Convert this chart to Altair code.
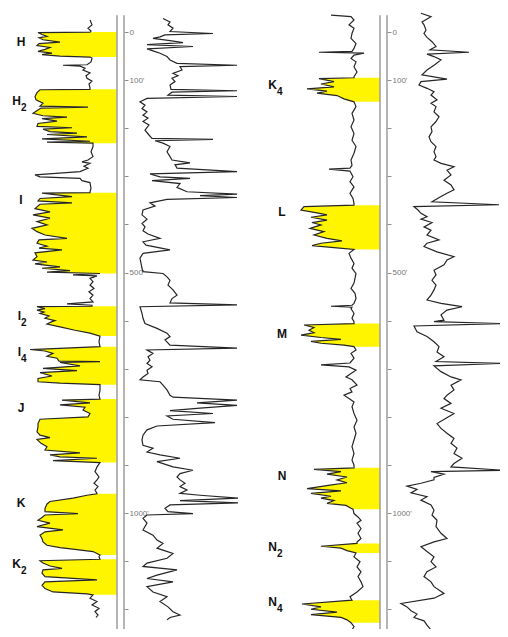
import altair as alt
import pandas as pd

# ---------------- data (depth in ft, SP in mV, resistivity in ohm-m) -------------
LEFT_SP = [(-25,-27),(-15,-25),(-8,-29),(-2,-26),
    (0,-27),(1,-79),(5,-75),(9,-70),(12,-78),(16,-74),(21,-57),(24,-78),(28,-80),(32,-67),(36,-72),(40,-79),(44,-65),(47,-75),(50,-57),(52,-27),
    (54,-25),(62,-26),(68,-30),(69,-54),(71,-37),(75,-32),(79,-34),(85,-27),(91,-31),(96,-30),(102,-25),(108,-28),(116,-27),
    (119,-27),(120,-77),(126,-80),(134,-82),(141,-81),(148,-74),(154,-77),(156,-29),(158,-76),(162,-79),(169,-84),(174,-74),(177,-50),(180,-75),(185,-60),(190,-79),(196,-80),(199,-45),(202,-74),(207,-67),(210,-40),(213,-70),(218,-30),(222,-75),(227,-27),(229,-70),(231,-24),
    (238,-24),(249,-26),(259,-24),(266,-29),(270,-35),(273,-27),(279,-33),(283,-29),(290,-37),(297,-82),(301,-77),(304,-37),(309,-35),(313,-27),(325,-26),(332,-27),
    (334,-27),(335,-75),(342,-45),(346,-77),(351,-79),(355,-45),(358,-77),(367,-82),(374,-67),(380,-84),(387,-67),(394,-80),(401,-70),(408,-85),(415,-80),(422,-72),(429,-50),(432,-78),(439,-80),(445,-70),(449,-78),(453,-55),(459,-82),(467,-80),(474,-84),(478,-70),(482,-82),(488,-57),(491,-75),(496,-47),(499,-70),(502,-17),
    (505,-44),(507,-20),(512,-27),(519,-24),(526,-27),(533,-23),(540,-28),(547,-24),(554,-27),(561,-24),(565,-50),(568,-25),
    (570,-25),(571,-80),(575,-72),(578,-80),(582,-73),(585,-77),(590,-68),(595,-72),(600,-62),(602,-65),(607,-70),(613,-57),(620,-42),(626,-27),(632,-17),
    (644,-18),
    (654,-17),(660,-87),(663,-72),(668,-64),(674,-70),(678,-60),(684,-58),(685,-17),(687,-57),(694,-37),(699,-74),(704,-40),(708,-77),(715,-65),(720,-79),(727,-79),(730,-57),(733,-17),
    (745,-17),(755,-18),
    (763,-17),(765,-55),(771,-27),(775,-57),(780,-32),(786,-34),(793,-27),(800,-29),(805,-77),(814,-79),(821,-79),(831,-80),(838,-77),(843,-67),(847,-80),(855,-76),(862,-70),(869,-72),(875,-37),(879,-67),(883,-57),(886,-20),(891,-64),(895,-17),
    (904,-20),(914,-22),(925,-18),(931,-20),(938,-23),(945,-19),(952,-22),(959,-20),
    (960,-20),(963,-30),(969,-44),(976,-67),(981,-70),(990,-72),(997,-72),(1001,-39),(1004,-72),(1009,-75),(1015,-79),(1021,-67),(1028,-80),(1035,-54),(1039,-72),(1046,-77),(1053,-75),(1060,-74),(1067,-70),(1072,-57),(1076,-40),(1080,-24),(1087,-17),
    (1091,-18),
    (1096,-17),(1099,-77),(1104,-74),(1110,-67),(1115,-55),(1118,-74),(1125,-75),(1132,-72),(1139,-20),(1143,-72),(1150,-75),(1157,-72),(1164,-64),(1168,-30),(1170,-24),
    (1177,-27),(1184,-20),(1191,-25),(1198,-18),(1205,-22),(1212,-19),(1217,-21)]

LEFT_RES = [(-28,33),(-21,40),(-15,38),(-8,43),(-1,40),(3,83),(6,35),(10,30),(13,23),(18,40),(22,53),(26,17),(30,63),(35,17),(39,23),(44,30),(51,37),(58,40),(65,47),(69,107),(72,50),(79,52),(86,43),(91,48),(96,42),(103,45),(110,40),(119,41),(122,107),(125,42),(131,38),(134,107),(138,17),(145,10),(152,15),(159,12),(166,17),(173,13),(179,18),(186,13),(193,19),(204,15),(214,19),(221,22),(223,83),(226,25),(231,33),(238,40),(249,37),(259,40),
    (266,42),(272,60),(276,45),(283,47),(290,107),(295,20),(301,30),(304,60),(309,22),(315,50),(323,47),(332,57),(337,107),(340,70),(344,107),(348,37),(355,20),(362,25),(370,13),(380,12),(389,17),(398,12),(405,15),(413,13),(420,18),(429,30),(436,13),(443,16),(453,40),(460,13),(470,10),(481,11),(491,12),(498,13),(502,33),(509,37),(516,40),(526,38),(536,43),(547,47),(554,42),(563,40),(567,107),(571,10),(585,12),(595,13),
    (606,15),(616,27),(626,37),(633,40),(640,35),(651,40),(657,107),(661,17),(668,23),(675,18),(682,20),(689,17),(696,22),(703,17),(710,18),(717,13),(723,10),(727,30),(734,33),(744,37),(755,40),(759,43),(765,107),(771,67),(776,107),(782,70),(787,40),(793,83),(798,37),(805,43),(812,85),(819,27),(827,17),(838,13),(848,12),(859,13),(865,23),(873,17),(879,30),(886,50),(893,27),(904,43),(911,63),(918,50),(925,47),(931,50),
    (938,55),(945,50),(952,57),(959,50),(963,70),(969,108),(974,50),(979,108),(983,40),(990,35),(997,38),(1001,63),(1004,17),(1011,13),(1021,17),(1035,13),(1046,23),(1056,27),(1063,33),(1073,27),(1084,43),(1094,37),(1104,17),(1111,13),(1118,47),(1129,27),(1136,17),(1143,43),(1153,17),(1164,23),(1174,37),(1184,30),(1195,38),(1205,43),(1212,50),(1217,40),(1222,37)]

RIGHT_SP = [(-35,-49),(-32,-29),(-25,-26),(-15,-31),(-8,-26),(3,-28),(13,-29),(24,-24),(34,-26),(40,-28),(42,-61),(44,-16),(48,-26),(55,-29),(62,-24),(72,-26),(83,-23),(93,-26),
    (95,-26),(97,-61),(103,-46),(108,-59),(114,-46),(118,-73),(123,-53),(127,-63),(132,-43),(139,-36),(145,-26),
    (155,-24),(169,-28),(183,-26),(197,-29),(211,-26),(225,-28),(238,-24),(252,-26),(266,-29),(277,-28),(283,-30),(285,-51),(289,-30),(301,-27),(311,-30),(322,-26),(335,-30),(346,-27),(356,-26),
    (360,-26),(363,-76),(370,-79),(376,-63),(380,-53),(385,-69),(391,-53),(396,-68),(401,-59),(408,-70),(415,-56),(422,-66),(429,-53),(434,-38),(439,-59),(444,-68),(448,-46),(452,-26),
    (460,-31),(470,-29),(481,-26),(491,-28),(502,-24),(512,-25),(522,-26),(533,-29),(543,-25),(554,-24),(564,-26),(568,-28),(570,-49),(572,-28),(575,-29),(585,-26),(595,-28),(602,-26),
    (606,-26),(609,-76),(614,-66),(620,-71),(625,-66),(630,-79),(635,-59),(639,-39),(643,-69),(647,-59),(651,-36),(654,-26),
    (661,-24),(668,-29),(678,-26),(688,-30),(692,-59),(696,-31),(703,-24),(710,-29),(717,-34),(723,-28),(734,-23),(741,-30),(748,-28),(755,-36),(762,-31),(769,-26),(779,-28),(793,-26),(807,-23),(821,-26),(834,-24),(848,-26),(862,-28),(876,-26),(890,-28),(900,-26),
    (906,-26),(909,-66),(914,-39),(919,-53),(925,-33),(931,-43),(937,-33),(942,-50),(949,-73),(954,-39),(959,-69),(965,-49),(969,-59),(974,-46),(980,-53),(984,-34),(990,-29),(992,-27),
    (1001,-26),(1008,-22),(1015,-19),(1021,-23),(1032,-19),(1042,-22),(1053,-19),(1060,-23),
    (1063,-23),(1069,-59),(1073,-39),(1078,-33),(1083,-24),
    (1091,-26),(1101,-20),(1112,-23),(1122,-19),(1132,-22),(1143,-19),(1153,-17),(1164,-23),(1174,-30),
    (1181,-28),(1189,-78),(1195,-59),(1200,-69),(1206,-43),(1211,-69),(1217,-39),(1222,-33),(1228,-29),
    (1236,-26),(1247,-29)]

RIGHT_RES = [(-39,31),(-32,41),(-21,32),(-15,34),(-4,36),(3,34),(11,37),(20,42),(30,46),(37,40),(42,79),(46,37),(51,44),(58,51),(69,44),(79,37),(89,32),(98,57),(103,31),(110,29),(117,37),(124,44),(131,41),(141,47),(148,41),(155,46),(166,44),(176,49),(186,46),(197,41),(207,42),(218,39),(228,41),(238,46),(249,44),(259,46),
    (266,44),(273,51),(280,64),(287,57),(297,61),(308,54),(318,61),(328,64),(335,57),(342,51),(353,42),(359,109),(363,24),(370,28),(377,31),(384,37),(389,31),(396,42),(405,34),(412,41),(422,37),(432,49),(439,37),(446,34),(457,47),(467,64),(474,57),(484,54),(495,44),(505,46),(516,42),(526,46),(536,44),(547,41),(557,37),(564,51),(571,72),(578,57),(588,51),(599,54),
    (602,44),(606,111),(611,24),(623,27),(633,37),(644,44),(654,49),(665,47),(675,54),(685,46),(689,111),(694,44),(706,51),(717,61),(723,71),(734,61),(744,64),(755,57),(762,54),(772,61),(782,51),(793,64),(803,56),(814,47),(824,51),(834,57),(845,64),(855,61),(865,67),(876,64),(886,72),(897,64),(904,61),(911,114),(914,41),(919,54),(926,44),
    (931,44),(938,31),(944,17),(951,27),(958,21),(966,37),(973,31),(983,41),(994,44),(1004,42),(1015,47),(1028,46),(1042,51),(1053,57),(1060,44),(1070,31),(1080,37),(1091,44),(1101,41),(1112,46),(1122,37),(1132,34),(1143,41),(1153,44),(1167,54),(1177,44),(1188,11),(1195,17),(1203,21),(1210,27),(1217,24),(1224,34),(1233,37),(1243,41),(1253,44)]

LEFT_ZONES = ["H", "H2", "I", "I2", "I4", "J", "K", "K2"]
LEFT_ZONE_TOP = [0, 119, 334, 570, 654, 763, 960, 1096]
LEFT_ZONE_BOTTOM = [52, 231, 502, 632, 733, 895, 1087, 1170]
RIGHT_ZONES = ["K4", "L", "M", "N", "N2", "N4"]
RIGHT_ZONE_TOP = [95, 360, 606, 906, 1063, 1181]
RIGHT_ZONE_BOTTOM = [145, 452, 654, 992, 1083, 1228]

LEFT_LABEL_MAIN = ["H", "H", "I", "I", "I", "J", "K", "K"]
LEFT_LABEL_SUB = ["", "2", "", "2", "4", "", "", "2"]
LEFT_LABEL_DEPTH = [21, 143, 349, 590, 665, 782, 979, 1106]
RIGHT_LABEL_MAIN = ["K", "L", "M", "N", "N", "N"]
RIGHT_LABEL_SUB = ["4", "", "", "", "2", "4"]
RIGHT_LABEL_DEPTH = [110, 374, 628, 923, 1071, 1185]

DEPTH_TICKS = [0, 100, 200, 300, 400, 500, 600, 700, 800, 900, 1000, 1100, 1200]
LABELED_DEPTHS = [0, 100, 500, 1000]

# ---------------- styles ----------------
YELLOW = "#FFF500"
INK = "#262626"
TRACK = "#9c9c9c"
PANEL_W, PANEL_H = 246, 621
FONT = "Liberation Sans"

label_expr = ("indexof([" + ",".join(str(v) for v in LABELED_DEPTHS) + "], datum.value) >= 0 ? "
              "(datum.value == 0 ? '0' : datum.value + \"'\") : ''")


def curve_df(points, col):
    df = pd.DataFrame(points, columns=["depth", col])
    df["idx"] = range(len(df))
    return df


def zone_fill_df(sp_df, names, tops, bottoms):
    parts = []
    for n, t, b in zip(names, tops, bottoms):
        sub = sp_df[(sp_df.depth >= t) & (sp_df.depth <= b)].copy()
        sub["zone"] = n
        parts.append(sub)
    return pd.concat(parts, ignore_index=True)


def panel(sp_pts, res_pts, zones, tops, bottoms, lab_main, lab_sub, lab_depth,
          sp_range, res_range, axis_offset, lab_x_plain, lab_x_main):
    yscale = alt.Scale(domain=[-50, 1241], reverse=True, nice=False, zero=False)
    yaxis = alt.Axis(orient="right", offset=axis_offset, values=DEPTH_TICKS, domain=False,
                     grid=False, ticks=True, tickSize=4, tickWidth=1, tickColor="#8c8c8c",
                     labelExpr=label_expr, labelFontSize=8, labelColor="#777777",
                     labelFont=FONT, labelPadding=1, labelBaseline="middle",
                     labelFlush=False, labelOverlap=False, title=None)
    sp_scale = alt.Scale(domain=[-100, 0], range=sp_range, nice=False, zero=False)
    res_scale = alt.Scale(domain=[0, 110], range=res_range, nice=False, zero=False)

    sp_df = curve_df(sp_pts, "sp")
    res_df = curve_df(res_pts, "res")
    fill = zone_fill_df(sp_df, zones, tops, bottoms)
    labels = pd.DataFrame({"main": lab_main, "sub": lab_sub, "depth": lab_depth})
    one = pd.DataFrame({"k": [0]})

    y_enc = alt.Y("depth:Q", scale=yscale, axis=yaxis)

    fill_layer = alt.Chart(fill).mark_area(orient="horizontal", color=YELLOW, opacity=1).encode(
        y=y_enc, x=alt.X("sp:Q", scale=sp_scale, axis=None), x2=alt.X2Datum(0), detail="zone:N")

    def track_rule(pos):
        return alt.Chart(one).mark_rule(color=TRACK, strokeWidth=1.5).encode(
            x=alt.XDatum(pos, scale=sp_scale, axis=None),
            y=alt.YDatum(-35, scale=yscale, axis=yaxis),
            y2=alt.Y2Datum(1241))

    sp_line = alt.Chart(sp_df).mark_line(color=INK, strokeWidth=1.2, clip=True).encode(
        y=y_enc, x=alt.X("sp:Q", scale=sp_scale, axis=None), order="idx:Q")
    res_line = alt.Chart(res_df).mark_line(color=INK, strokeWidth=1.2, clip=True).encode(
        y=y_enc, x=alt.X("res:Q", scale=res_scale, axis=None), order="idx:Q")

    plain = labels[labels["sub"] == ""]
    subbed = labels[labels["sub"] != ""]
    t_plain = alt.Chart(plain).mark_text(align="center", baseline="middle", font=FONT,
                                         fontWeight="bold", fontSize=12, color="#111111").encode(
        x=alt.value(lab_x_plain), y=y_enc, text="main:N")
    t_main = alt.Chart(subbed).mark_text(align="right", baseline="middle", font=FONT,
                                         fontWeight="bold", fontSize=12, color="#111111").encode(
        x=alt.value(lab_x_main), y=y_enc, text="main:N")
    t_sub = alt.Chart(subbed).mark_text(align="left", baseline="middle", font=FONT, dx=0, dy=7,
                                        fontWeight="bold", fontSize=10, color="#111111").encode(
        x=alt.value(lab_x_main), y=y_enc, text="sub:N")

    return alt.layer(fill_layer, track_rule(0), track_rule(7), sp_line, res_line,
                     t_plain, t_main, t_sub).resolve_scale(x="independent").properties(
        width=PANEL_W, height=PANEL_H)


left = panel(LEFT_SP, LEFT_RES, LEFT_ZONES, LEFT_ZONE_TOP, LEFT_ZONE_BOTTOM,
             LEFT_LABEL_MAIN, LEFT_LABEL_SUB, LEFT_LABEL_DEPTH,
             sp_range=[9, 109], res_range=[122, 232], axis_offset=-130,
             lab_x_plain=13, lab_x_main=13)
right = panel(RIGHT_SP, RIGHT_RES, RIGHT_ZONES, RIGHT_ZONE_TOP, RIGHT_ZONE_BOTTOM,
              RIGHT_LABEL_MAIN, RIGHT_LABEL_SUB, RIGHT_LABEL_DEPTH,
              sp_range=[26, 126], res_range=[136, 246], axis_offset=-113,
              lab_x_plain=28, lab_x_main=23)

chart = alt.hconcat(left, right, spacing=0, bounds="flush").properties(
    padding=0, background="white").configure_view(stroke=None)

chart.save("out.html", embed_options={"renderer": "svg", "actions": False})
